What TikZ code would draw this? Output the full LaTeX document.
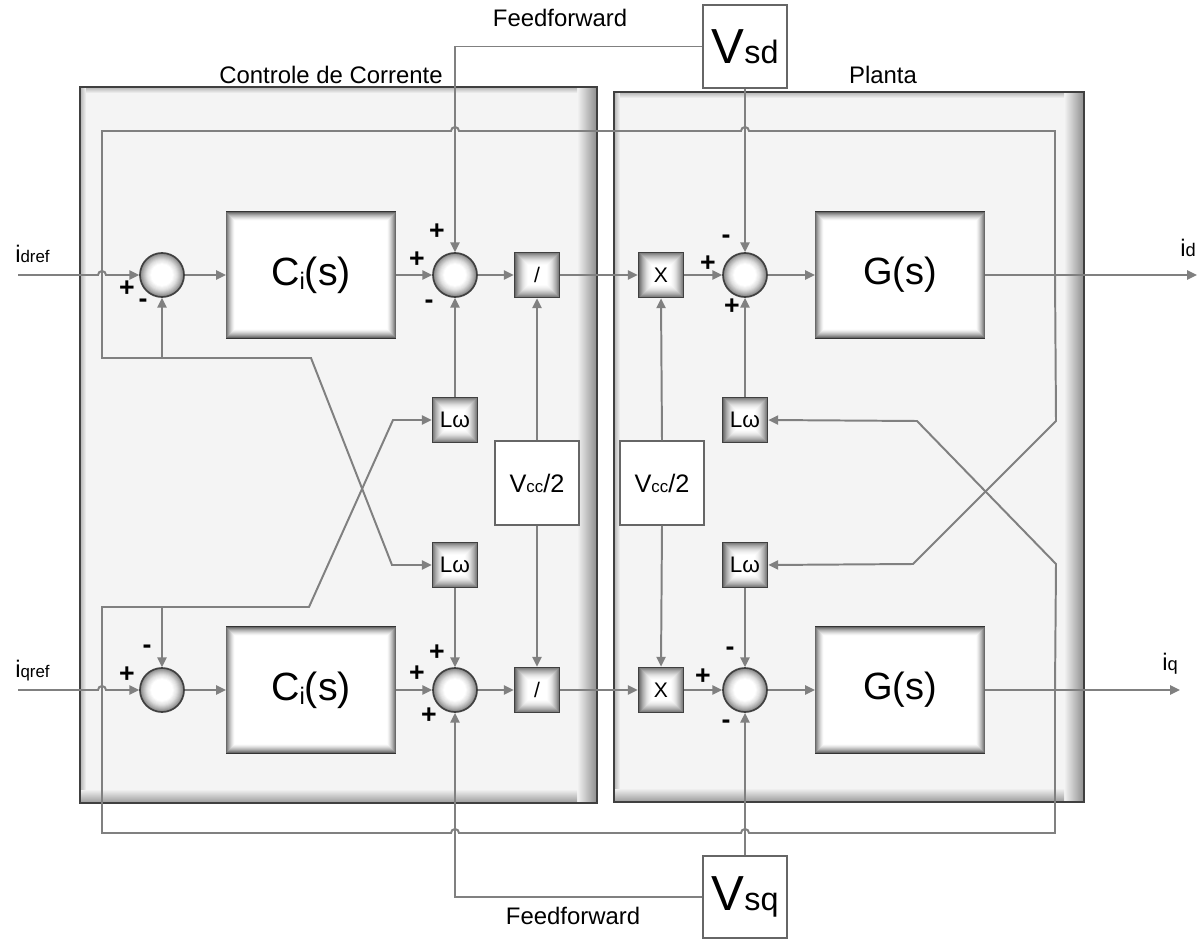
\documentclass[tikz,border=0pt]{standalone}
\usepackage{fontspec}
\setmainfont{Liberation Sans}
\usetikzlibrary{arrows.meta,calc}
\definecolor{panelbg}{HTML}{F4F4F4}
\definecolor{wirec}{HTML}{808080}
\newcommand\fs[2]{{\fontsize{#1}{#1}\selectfont #2}}
\newcommand\ishade[1]{\foreach \i in {1,...,10}{\pgfmathsetmacro\sh{int(70*(1-\i/10)^1.6)}\draw[black!\sh, line width=0.8pt] ($(#1.south west)+(\i-0.3,-\i+0.3)$) rectangle ($(#1.north east)+(-\i+0.3,\i-0.3)$);}}
\newcommand\panel[4]{%
  \fill[panelbg] (#1,#2) rectangle (#3,#4);
  \shade[left color=panelbg, right color=black!45] ({#3-20},#2) rectangle (#3,#4);
  \shade[top color=panelbg, bottom color=black!40] (#1,{#4-14}) rectangle ({#3-20},#4);
  \shade[left color=black!30, right color=panelbg] (#1,#2) rectangle ({#1+6},{#4-14});
  \shade[top color=black!30, bottom color=panelbg] ({#1+6},#2) rectangle ({#3-20},{#2+6});
  \draw[black!75, line width=1.5pt] (#1,#2) rectangle (#3,#4);}
\begin{document}
\begin{tikzpicture}[x=0.025cm,y=-0.025cm,
  wire/.style={draw=wirec, line width=1.4pt},
  arr/.style={wire, -{Triangle[length=7pt,width=6.5pt]}},
  sumnode/.style={circle, minimum size=1.1cm, inner sep=0, draw=black!75, line width=1.2pt,
    path picture={\foreach \i in {0,...,13}{\pgfmathsetmacro\sh{int(55*(1-\i/13)^1.6)}\fill[black!\sh] (path picture bounding box.center) circle[radius={23-\i*1.0}];}}},
  bigbox/.style={rectangle, minimum width=4.2cm, minimum height=3.125cm, fill=white, draw=black!80, line width=1.5pt, inner sep=0},
  smallbox/.style={rectangle, minimum size=1.125cm, inner sep=0, draw=black!75, line width=1.2pt,
    path picture={\foreach \i in {0,...,14}{\pgfmathsetmacro\sh{int(58*(1-\i/14)^1.9)}\fill[black!\sh] ($(path picture bounding box.south west)+(\i*1.0,-\i*1.0)$) rectangle ($(path picture bounding box.north east)+(-\i*1.0,\i*1.0)$);}}},
  whitebox/.style={rectangle, fill=white, draw=black!60, line width=0.9pt, inner sep=0},
  lbl/.style={font=\fontsize{17}{17}\selectfont, inner sep=0},
  sign/.style={font=\fontsize{19}{19}\selectfont\bfseries, inner sep=0},
]
\useasboundingbox (0,0) rectangle (1204,939);
\fill[white] (0,0) rectangle (1204,939);

% panels
\panel{80}{87}{597}{803}
\panel{614}{92}{1084}{802}

% titles
\node[lbl] (t1) at (331,75) {Controle de Corrente};
\node[lbl] (t2) at (883,75) {Planta};
\node[lbl] (ff1) at (560,18) {Feedforward};
\node[lbl] (ff2) at (573,916) {Feedforward};

% d row
\node[sumnode] (s1) at (162,275) {};
\node[bigbox] (c1) at (311,275) {\fs{28}{C}\raisebox{-3pt}{\fs{17}{i}}\fs{28}{(s)}};
\node[sumnode] (s2) at (455,275) {};
\node[smallbox] (dv1) at (537,275) {\fs{15}{/}};
\node[smallbox] (m1) at (661,275) {\fs{15}{X}};
\node[sumnode] (s3) at (745,275) {};
\node[bigbox] (g1) at (900,275) {\fs{27}{G(s)}};
% q row
\node[sumnode] (s4) at (162,690) {};
\node[bigbox] (c2) at (311,690) {\fs{28}{C}\raisebox{-3pt}{\fs{17}{i}}\fs{28}{(s)}};
\node[sumnode] (s5) at (455,690) {};
\node[smallbox] (dv2) at (537,690) {\fs{15}{/}};
\node[smallbox] (m2) at (661,690) {\fs{15}{X}};
\node[sumnode] (s6) at (745,690) {};
\node[bigbox] (g2) at (900,690) {\fs{27}{G(s)}};
\ishade{c1}\ishade{g1}\ishade{c2}\ishade{g2}

% L omega
\node[smallbox] (lw1) at (455,420) {\fs{16}{Lω}};
\node[smallbox] (lw2) at (455,565) {\fs{16}{Lω}};
\node[smallbox] (lw3) at (745,420) {\fs{16}{Lω}};
\node[smallbox] (lw4) at (745,565) {\fs{16}{Lω}};

% Vcc/2
\node[whitebox, minimum size=2.1cm] (vc1) at (537,483) {\fs{18}{V}\fs{12}{cc}\fs{18}{/2}};
\node[whitebox, minimum size=2.1cm] (vc2) at (662,483) {\fs{18}{V}\fs{12}{cc}\fs{18}{/2}};

% Vsd / Vsq
\node[whitebox, minimum width=2.1cm, minimum height=2.075cm] (vsd) at (745,46.5) {\fs{35}{V}\fs{23}{sd}};
\node[whitebox, minimum width=2.1cm, minimum height=2.05cm] (vsq) at (745,897) {\fs{35}{V}\fs{23}{sq}};

% io labels
\node[anchor=base west, inner sep=0] (lidref) at (15,263) {\fs{17}{i}\fs{12}{dref}};
\node[anchor=base west, inner sep=0] (liqref) at (15,677) {\fs{17}{i}\fs{12}{qref}};
\node[anchor=base west, inner sep=0] (lid) at (1180,256) {\fs{17}{i}\fs{13}{d}};
\node[anchor=base west, inner sep=0] (liq) at (1162,670) {\fs{17}{i}\fs{13}{q}};

\coordinate (in1) at (18,275);
\coordinate (out1) at (1197,275);
\coordinate (tap1) at (1055,275);
\coordinate (in2) at (18,690);
\coordinate (out2) at (1180,690);
\coordinate (tap2) at (1055,690);

% main chains
\draw[arr] (in1) -- (98,275) arc[start angle=180,end angle=360,radius=4] -- (s1.west);
\draw[arr] (s1.east) -- (c1.west);
\draw[arr] (c1.east) -- (s2.west);
\draw[arr] (s2.east) -- (dv1.west);
\draw[arr] (dv1.east) -- (m1.west);
\draw[arr] (m1.east) -- (s3.west);
\draw[arr] (s3.east) -- (g1.west);
\draw[arr] (g1.east) -- (out1);

\draw[arr] (in2) -- (98,690) arc[start angle=180,end angle=360,radius=4] -- (s4.west);
\draw[arr] (s4.east) -- (c2.west);
\draw[arr] (c2.east) -- (s5.west);
\draw[arr] (s5.east) -- (dv2.west);
\draw[arr] (dv2.east) -- (m2.west);
\draw[arr] (m2.east) -- (s6.west);
\draw[arr] (s6.east) -- (g2.west);
\draw[arr] (g2.east) -- (out2);

% Vcc
\draw[arr] (vc1.north) -- (dv1.south);
\draw[arr] (vc1.south) -- (dv2.north);
\draw[arr] (vc2.north) -- (m1.south);
\draw[arr] (vc2.south) -- (m2.north);

% L omega to sums
\draw[arr] (lw1.north) -- (s2.south);
\draw[arr] (lw2.south) -- (s5.north);
\draw[arr] (lw3.north) -- (s3.south);
\draw[arr] (lw4.south) -- (s6.north);

% feedforward
\draw[arr] (vsd.west) -- (455,46.5) -- (s2.north);
\draw[arr] (vsd.south) -- (s3.north);
\draw[arr] (vsq.west) -- (455,897) -- (s5.south);
\draw[arr] (vsq.north) -- (s6.south);

% feedback loops
\draw[wire] (tap1) -- (1055,131) -- (749,131) arc[start angle=0,end angle=-180,radius=4] -- (459,131) arc[start angle=0,end angle=-180,radius=4] -- (102,131) -- (102,358) -- (162,358);
\draw[arr] (162,358) -- (s1.south);
\draw[arr] (162,358) -- (311,358) -- (392,565) -- (lw2.west);
\draw[wire] (tap2) -- (1055,833) -- (749,833) arc[start angle=0,end angle=-180,radius=4] -- (459,833) arc[start angle=0,end angle=-180,radius=4] -- (102,833) -- (102,607) -- (162,607);
\draw[arr] (162,607) -- (s4.north);
\draw[arr] (162,607) -- (309,607) -- (393,420) -- (lw1.west);
\draw[arr] (tap1) -- (1056,421) -- (913,564) -- (lw4.east);
\draw[arr] (tap2) -- (1056,564) -- (917,421) -- (lw3.east);

% signs
\node[sign] (p1) at (127,289) {+};
\node[sign] (p2) at (143,303) {-};
\node[sign] (p3) at (437,232) {+};
\node[sign] (p4) at (417,260) {+};
\node[sign] (p5) at (429,304) {-};
\node[sign] (p6) at (726,239) {-};
\node[sign] (p7) at (708,264) {+};
\node[sign] (p8) at (732,307) {+};
\node[sign] (p9) at (127,675) {+};
\node[sign] (p10) at (147,649) {-};
\node[sign] (p11) at (437,653) {+};
\node[sign] (p12) at (417,674) {+};
\node[sign] (p13) at (429,716) {+};
\node[sign] (p14) at (730,651) {-};
\node[sign] (p15) at (703,677) {+};
\node[sign] (p16) at (726,724) {-};
\end{tikzpicture}
\end{document}
